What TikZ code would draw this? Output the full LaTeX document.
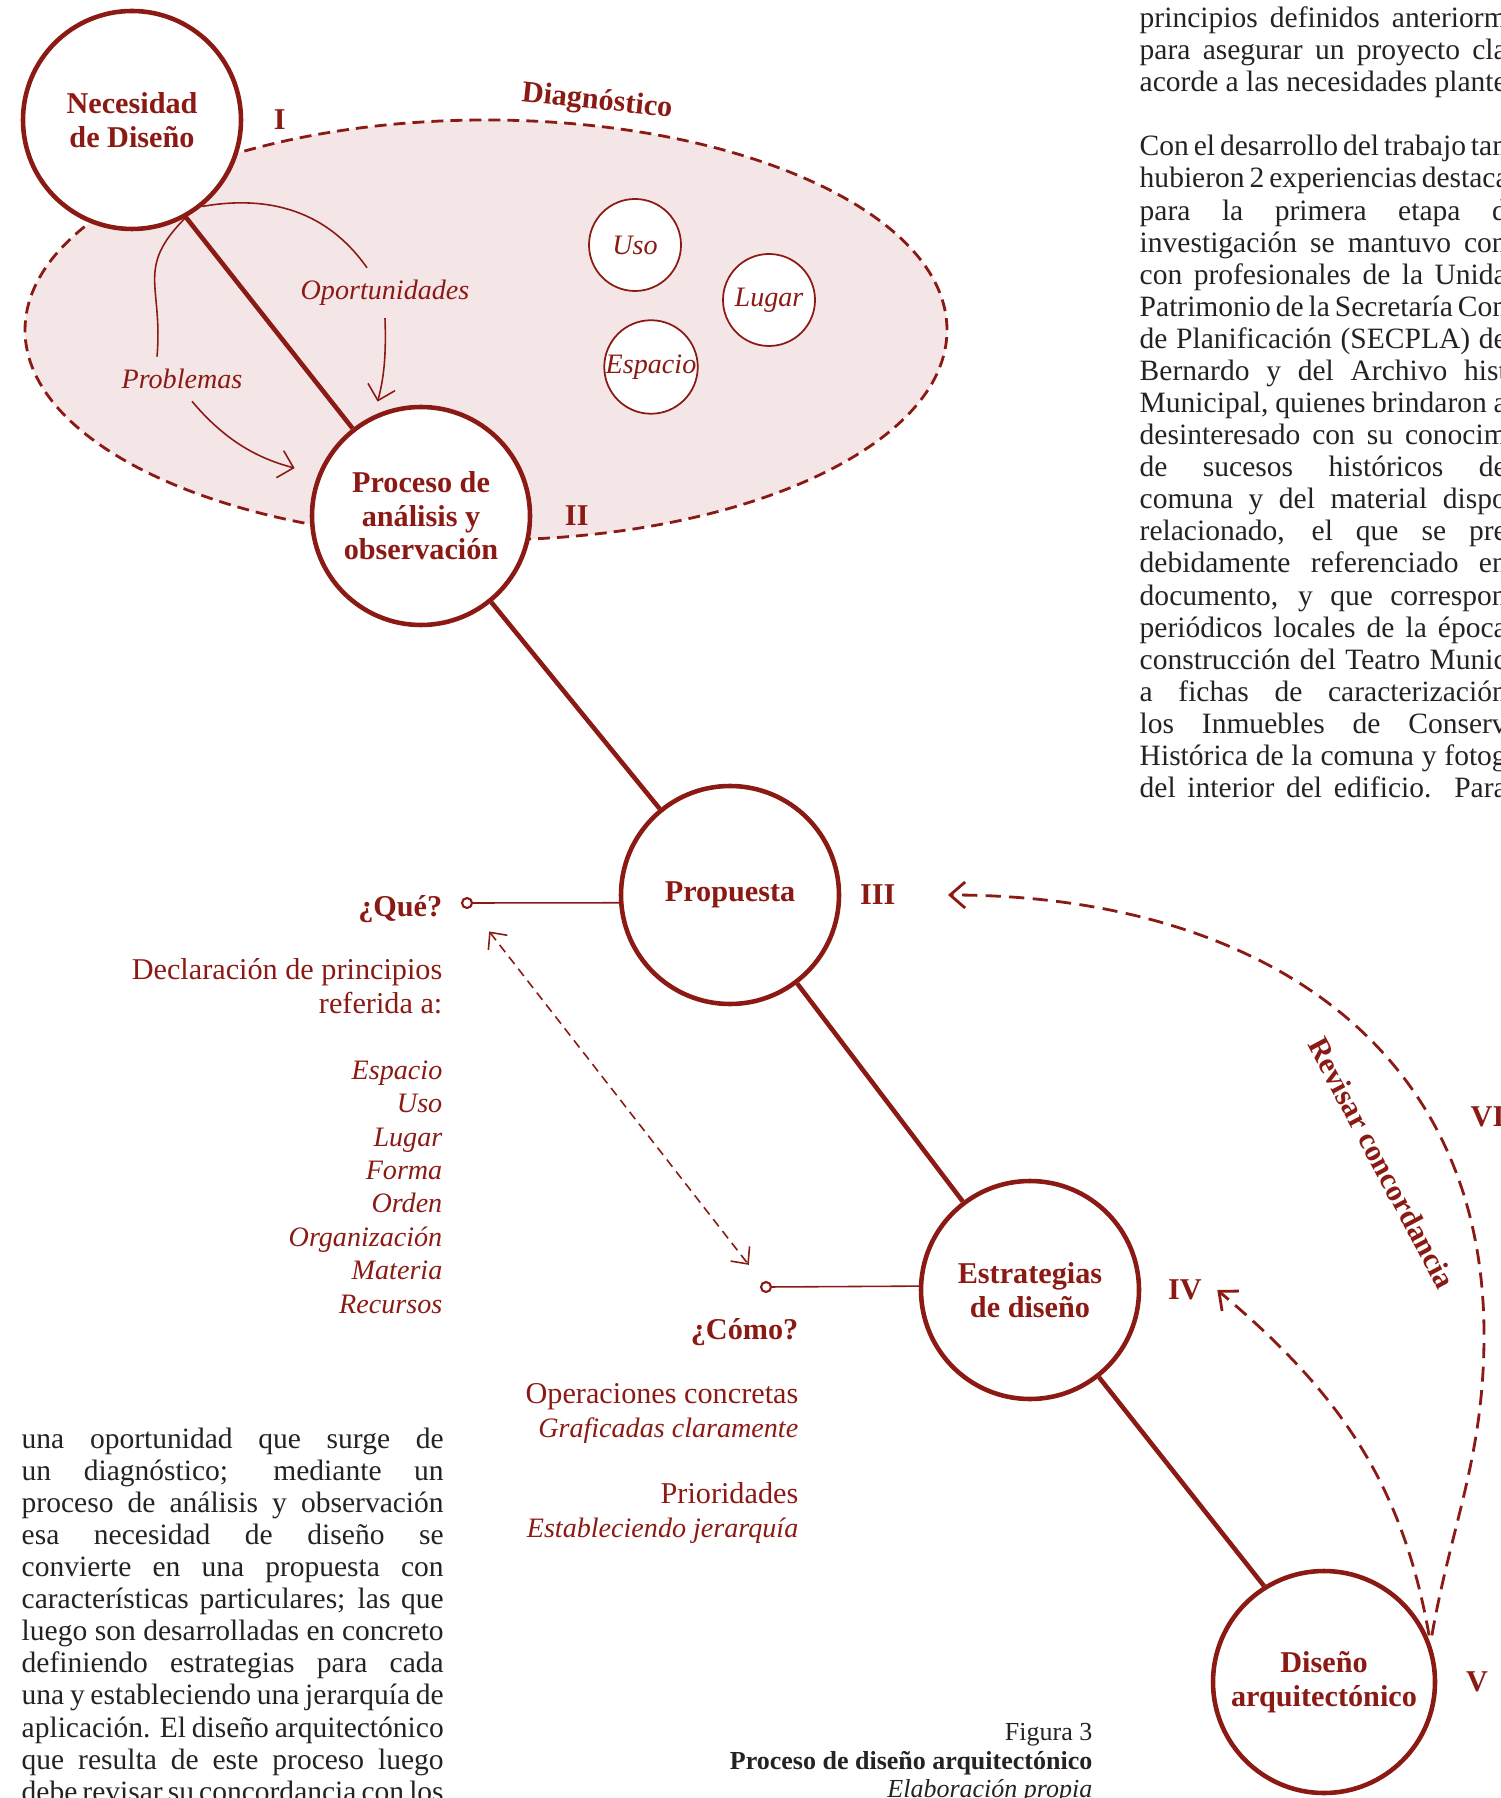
\documentclass[tikz,border=0pt]{standalone}
\usepackage{fontspec}
\setmainfont{Liberation Serif}
\usetikzlibrary{positioning,arrows.meta}

\definecolor{vino}{RGB}{139,26,20}
\definecolor{rosa}{RGB}{244,230,231}
\definecolor{tinta}{RGB}{38,34,35}

\newcommand{\etiq}{\fontsize{8.6}{9.5}\selectfont}
\newcommand{\cur}[1]{{\fontsize{8}{9.5}\selectfont\itshape #1}}
\newcommand{\cuerpo}{\fontsize{8.4}{9.13}\selectfont}
\newcommand{\pie}{\fontsize{7.4}{8.1}\selectfont}
\newcommand{\linea}[1]{\makebox[42.2mm][s]{#1}}
\newcommand{\corte}[1]{\makebox[36.7mm][s]{#1}}

\begin{document}
\begin{tikzpicture}[x=0.1mm, y=0.1mm, node distance=2.8mm,
etapa/.style={circle,draw=vino,line width=1.3pt,fill=white,inner sep=0pt,minimum size=21.8mm,align=center,text=vino,font=\etiq\bfseries},
factor/.style={circle,draw=vino,line width=0.5pt,fill=white,inner sep=0pt,minimum size=9.2mm,text=vino,font=\fontsize{8}{9.5}\selectfont\itshape},
rotulo/.style={inner sep=0pt,text=vino,font=\etiq\bfseries},
nota/.style={text=vino,font=\fontsize{8}{9.5}\selectfont\itshape},
punto/.style={circle,draw=vino,line width=0.6pt,fill=white,inner sep=0pt,minimum size=1mm},
lista/.style={inner sep=0pt,text=vino,font=\etiq,align=right},
texto/.style={inner sep=0pt,text=tinta,font=\cuerpo,align=left},
paths/.style={vino,line width=1.3pt},
ramal/.style={vino,line width=0.45pt},
flecha/.style={ramal,-{Straight Barb[length=1.4mm,width=2.8mm]}},
vinculo/.style={vino,line width=0.45pt,dash pattern=on 2.6pt off 1.7pt,{Straight Barb[length=1.3mm,width=2.4mm]}-{Straight Barb[length=1.3mm,width=2.4mm]}},
retorno/.style={vino,line width=0.8pt,dash pattern=on 4.3pt off 2.4pt,-{Straight Barb[length=1.5mm,width=2.6mm]}},
diag/.style={draw=vino,fill=rosa,line width=0.8pt,dash pattern=on 3.4pt off 2pt}
]
\useasboundingbox (0,0) rectangle (1500,-1798);

%diagnostic area
\draw[diag] (486,-330) ellipse [x radius=46.1mm, y radius=21mm];

%create nodes
\node[etapa] (nec) at (132,-120) {Necesidad\\de Diseño};
\node[etapa] (proc) at (421,-516) {Proceso de\\análisis y\\observación};
\node[etapa] (prop) at (730,-895) {Propuesta};
\node[etapa] (estr) at (1030,-1290) {Estrategias\\de diseño};
\node[etapa, minimum size=22.2mm] (dis) at (1324,-1682) {Diseño\\arquitectónico};

\node[factor] (uso) at (635,-245) {Uso};
\node[factor] (lugar) at (769,-300) {Lugar};
\node[factor] (esp) at (651,-367) {Espacio};

\node[rotulo, right=3mm of nec] (n1) {I};
\node[rotulo, right=3.2mm of proc] (n2) {II};
\node[rotulo, right=1.8mm of prop] (n3) {III};
\node[rotulo, right=2.6mm of estr] (n4) {IV};
\node[rotulo, right=of dis] (n5) {V};
\node[rotulo, anchor=west] (n6) at (1470,-1117) {VI};

\node[rotulo, rotate=-6] (diagn) at (597,-102) {Diagnóstico};
\node[rotulo, rotate=-62] (rev) at (1382,-1163) {Revisar concordancia};

\node[nota] (opor) at (385,-293) {Oportunidades};
\node[nota] (prob) at (182,-379) {Problemas};

\node[punto] (que) at (467,-903) {};
\node[rotulo, left=1.8mm of que, yshift=-0.6mm] (qtxt) {¿Qué?};
\node[punto] (como) at (766,-1287) {};
\node[rotulo, anchor=east] (ctxt) at (799,-1332) {¿Cómo?};

\node[lista, anchor=north east] (decl) at (443,-958) {Declaración de principios\\referida a:};
\node[lista, anchor=north east] (temas) at (443,-1060) {\cur{Espacio}\\\cur{Uso}\\\cur{Lugar}\\\cur{Forma}\\\cur{Orden}\\\cur{Organización}\\\cur{Materia}\\\cur{Recursos}};
\node[lista, anchor=north east] (oper) at (799,-1383) {Operaciones concretas\\\cur{Graficadas claramente}};
\node[lista, anchor=north east] (prio) at (799,-1482) {Prioridades\\\cur{Estableciendo jerarquía}};

%draw paths
\draw[paths] (nec.-61) -- (proc.128);
\draw[paths] (proc) -- (prop);
\draw[paths] (prop) -- (estr);
\draw[paths] (estr) -- (dis.122);

%problems and opportunities
\draw[ramal] (nec.-51) to[out=10, in=125] ([xshift=-1.8mm]opor.north);
\draw[flecha, shorten >=1.4mm] (opor.south) to[out=-88, in=75] (proc.115);
\draw[ramal] (nec.-61) to[out=-135, in=85, looseness=1.3] ([xshift=-2.5mm]prob.north);
\draw[flecha, shorten >=2.4mm] ([xshift=1mm]prob.south) to[out=-50, in=165] (proc.158);

%what and how
\draw[ramal] (que) -- (prop.184);
\draw[ramal] (como) -- (estr.178);
\draw[vinculo, shorten <=3mm, shorten >=2.2mm] (que) -- (como);

%review loop
\coordinate[right=5.2mm of n3] (fin3);
\coordinate[right=1.5mm of n4] (fin4);
\coordinate (giro) at (1484,-1335);
\draw[retorno, shorten <=0.8mm] (dis.20) to[out=80, in=-90] (giro) to[out=90, in=0, looseness=1.1] (fin3);
\draw[retorno, shorten <=0.8mm] (dis.20) to[out=100, in=-40] (fin4);

%page text
\node[texto, anchor=north west] (colder) at (1139,-6) {%
\corte{principios definidos anteriorm}\\
\corte{para asegurar un proyecto cla}\\
\corte{acorde a las necesidades plante}\\[9.13pt]
\corte{Con el desarrollo del trabajo tam}\\
\corte{hubieron 2 experiencias destaca}\\
\corte{para la primera etapa d}\\
\corte{investigación se mantuvo con}\\
\corte{con profesionales de la Unida}\\
\corte{Patrimonio de la Secretaría Com}\\
\corte{de Planificación (SECPLA) de}\\
\corte{Bernardo y del Archivo hist}\\
\corte{Municipal, quienes brindaron a}\\
\corte{desinteresado con su conocim}\\
\corte{de sucesos históricos de}\\
\corte{comuna y del material dispo}\\
\corte{relacionado, el que se pre}\\
\corte{debidamente referenciado en}\\
\corte{documento, y que correspon}\\
\corte{periódicos locales de la época}\\
\corte{construcción del Teatro Munic}\\
\corte{a fichas de caracterización}\\
\corte{los Inmuebles de Conserv}\\
\corte{Histórica de la comuna y fotog}\\
\corte{del interior del edificio. Para}};

\node[texto, anchor=north west] (colizq) at (21,-1427) {%
\linea{una oportunidad que surge de}\\
\linea{un diagnóstico; mediante un}\\
\linea{proceso de análisis y observación}\\
\linea{esa necesidad de diseño se}\\
\linea{convierte en una propuesta con}\\
\linea{características particulares; las que}\\
\linea{luego son desarrolladas en concreto}\\
\linea{definiendo estrategias para cada}\\
\linea{una y estableciendo una jerarquía de}\\
\linea{aplicación. El diseño arquitectónico}\\
\linea{que resulta de este proceso luego}\\
\linea{debe revisar su concordancia con los}};

\node[anchor=north east, inner sep=0pt, align=right, text=tinta, font=\pie] (pie) at (1093,-1723) {Figura 3\\\textbf{Proceso de diseño arquitectónico}\\\textit{Elaboración propia}};

\end{tikzpicture}
\end{document}
